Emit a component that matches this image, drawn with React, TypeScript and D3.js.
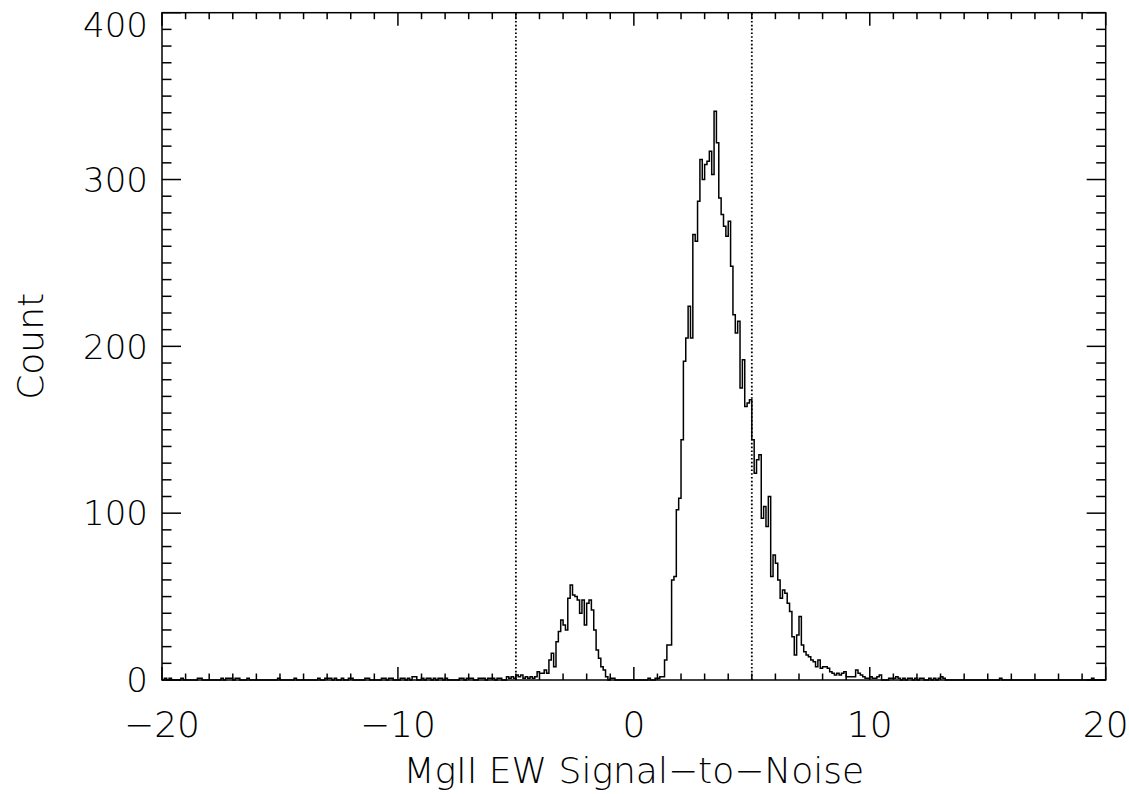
import React from "react";
import * as d3 from "d3";

// ---- data ----
const BIN_WIDTH = 0.1;
const xDomain: [number, number] = [-20, 20];
const yDomain: [number, number] = [0, 400];
const xMajorTicks = [-20, -10, 0, 10, 20];
const yMajorTicks = [0, 100, 200, 300, 400];
const cutLines = [-5, 5];

// contiguous bins starting at coreStart (bin left edges, width 0.1)
const coreStart = -5.5;
const coreCounts = [
  // -5.5 .. -4.6
  0, 2, 1, 2, 1, 3, 2, 3, 1, 2,
  // -4.5 .. -3.6
  1, 2, 1, 2, 5, 4, 4, 6, 4, 12,
  // -3.5 .. -2.6
  16, 8, 23, 29, 36, 33, 30, 49, 57, 51,
  // -2.5 .. -1.6
  50, 48, 40, 48, 33, 46, 48, 42, 30, 18,
  // -1.5 .. -0.6
  13, 8, 6, 2, 0, 1, 1, 0, 0, 0,
  // -0.5 .. 0.4
  0, 0, 0, 0, 0, 0, 0, 0, 0, 0,
  // 0.5 .. 1.4
  0, 1, 0, 0, 1, 1, 2, 2, 12, 21,
  // 1.5 .. 2.4
  21, 60, 62, 102, 109, 144, 191, 205, 224, 205,
  // 2.5 .. 3.4
  267, 263, 287, 312, 300, 309, 311, 317, 303, 341,
  // 3.5 .. 4.4
  322, 289, 279, 272, 266, 275, 248, 219, 208, 215,
  // 4.5 .. 5.4
  175, 192, 164, 166, 168, 144, 124, 132, 135, 97,
  // 5.5 .. 6.4
  104, 92, 110, 62, 75, 70, 60, 49, 54, 52,
  // 6.5 .. 7.4
  46, 41, 26, 15, 27, 38, 21, 17, 15, 14,
  // 7.5 .. 8.4
  12, 11, 8, 12, 7, 8, 8, 7, 5, 4,
  // 8.5 .. 9.4
  3, 4, 3, 4, 5, 2, 2, 2, 2, 6,
  // 9.5 .. 10.4
  4, 3, 2, 1, 1, 2, 1, 1, 2, 3,
  // 10.5 .. 11.2
  0, 0, 0, 1, 1, 1, 2, 1,
];

// scattered bins in the far wings (bin left edge)
const wingBinEdges = [
  -19.9, -19.7, -19.2, -18.5, -18.4, -17.5, -17.3, -17.2, -17.1, -16.9,
  -16.8, -16.4, -15.1, -14.4, -13.4, -13.1, -13.0, -12.9, -12.7, -12.4,
  -12.1, -12.0, -11.4, -11.3, -10.7, -10.6, -10.4, -10.3, -9.9, -9.8,
  -9.6, -9.4, -9.3, -9.0, -8.8, -8.7, -8.5, -8.3, -8.2, -8.0,
  -7.4, -7.3, -7.1, -7.0, -6.9, -6.6, -6.5, -6.4, -6.2, -6.1,
  -6.0, -5.8, -5.7,
  11.4, 11.6, 11.7, 11.9, 12.1, 12.2, 12.5, 12.7, 12.9, 13.0, 13.1, 15.5, 19.4,
];
const wingBinCounts = [
  1, 1, 1, 1, 1, 1, 1, 1, 1, 1,
  1, 1, 1, 1, 1, 1, 1, 1, 1, 1,
  1, 1, 1, 1, 1, 1, 1, 1, 1, 1,
  1, 2, 2, 1, 1, 1, 1, 1, 1, 1,
  1, 1, 1, 1, 1, 1, 1, 1, 1, 1,
  1, 1, 1,
  1, 1, 1, 1, 1, 1, 1, 1, 1, 2, 1, 1, 1,
];

const xTitle = "MgII EW Signal\u2212to\u2212Noise";
const yTitle = "Count";

// ---- layout ----
const W = 1129;
const H = 794;
const L = 162;
const R = 1105.7;
const T = 12.7;
const B = 680;
const FONT = "'DejaVu Sans', sans-serif";

function buildBins(): [number, number][] {
  const n = Math.round((xDomain[1] - xDomain[0]) / BIN_WIDTH);
  const counts = new Array(n).fill(0);
  const idx = (v: number) => Math.round((v - xDomain[0]) / BIN_WIDTH);
  coreCounts.forEach((c, i) => {
    counts[idx(coreStart) + i] = c;
  });
  wingBinEdges.forEach((e, i) => {
    counts[idx(e)] = wingBinCounts[i];
  });
  const pts: [number, number][] = counts.map((c, i) => [xDomain[0] + i * BIN_WIDTH, c]);
  pts.push([xDomain[1], counts[n - 1]]);
  return pts;
}

export default function App() {
  const x = d3.scaleLinear().domain(xDomain).range([L, R]);
  const y = d3.scaleLinear().domain(yDomain).range([B, T]);
  const bins = buildBins();
  const line = d3
    .line<[number, number]>()
    .x((d) => x(d[0]))
    .y((d) => y(d[1]))
    .curve(d3.curveStepAfter);

  const xMinor = d3.range(xDomain[0], xDomain[1] + 0.001, 1).filter((v) => !xMajorTicks.includes(v));
  const yMinor = d3.range(yDomain[0], yDomain[1] + 0.001, 10).filter((v) => !yMajorTicks.includes(v));

  const sw = 1.5;
  const xMajLen = 13;
  const xMinLen = 6.5;
  const yMajLen = 19;
  const yMinLen = 9.5;
  const yFont = 34;
  const xFont = 36;

  return (
    <svg width={W} height={H} style={{ position: "absolute", left: 0, top: 0, background: "#fff" }}>
      <rect x={0} y={0} width={W} height={H} fill="#fff" />
      {/* histogram */}
      <path d={line(bins) || ""} fill="none" stroke="#000" strokeWidth={1.5} />
      {/* cut lines */}
      {cutLines.map((c) => (
        <line key={c} x1={x(c)} x2={x(c)} y1={y(yDomain[0])} y2={y(yDomain[1])} stroke="#000" strokeWidth={1.8} strokeDasharray="1.6,2.2" />
      ))}
      {/* frame */}
      <rect x={L} y={T} width={R - L} height={B - T} fill="none" stroke="#000" strokeWidth={sw} />
      {/* x ticks */}
      {xMinor.map((v) => (
        <g key={"xm" + v}>
          <line x1={x(v)} x2={x(v)} y1={B} y2={B - xMinLen} stroke="#000" strokeWidth={sw} />
          <line x1={x(v)} x2={x(v)} y1={T} y2={T + xMinLen} stroke="#000" strokeWidth={sw} />
        </g>
      ))}
      {xMajorTicks.map((v) => (
        <g key={"xM" + v}>
          <line x1={x(v)} x2={x(v)} y1={B} y2={B - xMajLen} stroke="#000" strokeWidth={sw} />
          <line x1={x(v)} x2={x(v)} y1={T} y2={T + xMajLen} stroke="#000" strokeWidth={sw} />
          <text x={x(v)} y={737} textAnchor="middle" fontFamily={FONT} fontWeight={200} fontSize={xFont} fill="#000">
            {v < 0 ? "\u2212" + Math.abs(v) : String(v)}
          </text>
        </g>
      ))}
      {/* y ticks */}
      {yMinor.map((v) => (
        <g key={"ym" + v}>
          <line x1={L} x2={L + yMinLen} y1={y(v)} y2={y(v)} stroke="#000" strokeWidth={sw} />
          <line x1={R} x2={R - yMinLen} y1={y(v)} y2={y(v)} stroke="#000" strokeWidth={sw} />
        </g>
      ))}
      {yMajorTicks.map((v) => {
        const ty = Math.max(y(v), T + yFont * 0.36);
        return (
          <g key={"yM" + v}>
            <line x1={L} x2={L + yMajLen} y1={y(v)} y2={y(v)} stroke="#000" strokeWidth={sw} />
            <line x1={R} x2={R - yMajLen} y1={y(v)} y2={y(v)} stroke="#000" strokeWidth={sw} />
            <text x={148} y={ty + yFont * 0.36} textAnchor="end" fontFamily={FONT} fontWeight={200} fontSize={yFont} fill="#000">
              {String(v)}
            </text>
          </g>
        );
      })}
      {/* titles */}
      <text x={x(0)} y={783} textAnchor="middle" fontFamily={FONT} fontWeight={200} fontSize={36} fill="#000">
        {xTitle}
      </text>
      <text
        transform={`translate(43, ${y(200)}) rotate(-90)`}
        textAnchor="middle"
        fontFamily={FONT}
        fontWeight={200}
        fontSize={36}
        fill="#000"
      >
        {yTitle}
      </text>
    </svg>
  );
}
